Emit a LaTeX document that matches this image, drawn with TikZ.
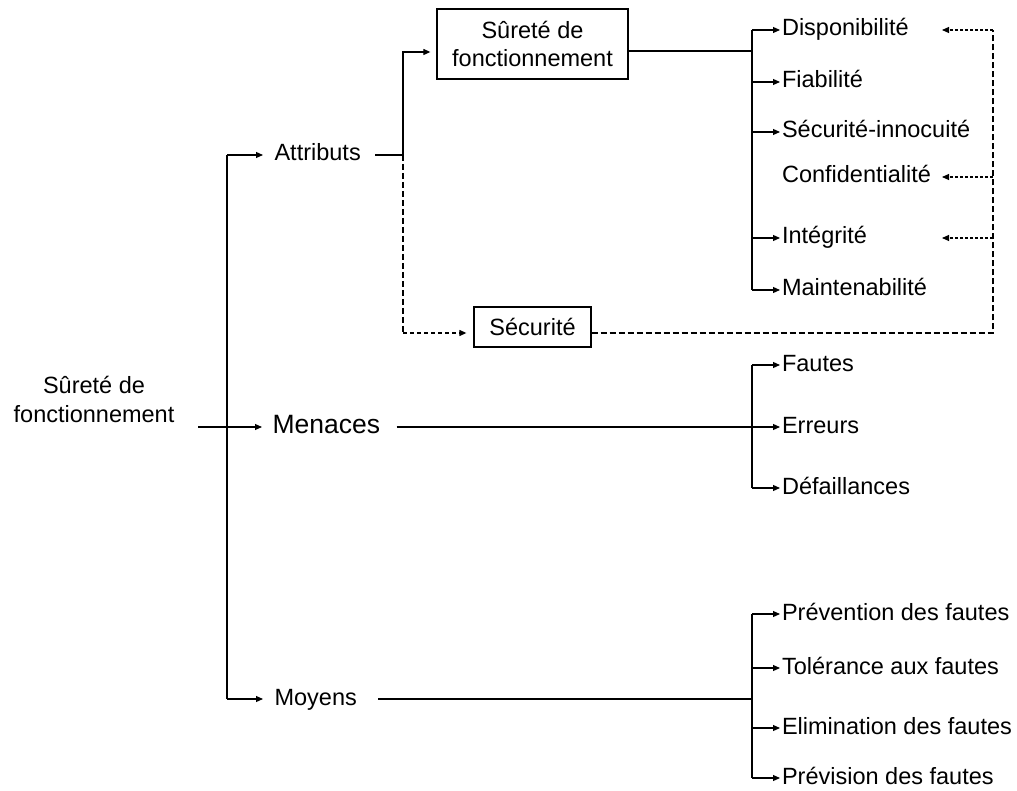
\documentclass[tikz,border=0pt]{standalone}
\usepackage{fontspec}
\setmainfont{Liberation Sans}
\usetikzlibrary{arrows.meta}
\begin{document}
\begin{tikzpicture}[x=1pt,y=-1pt,line width=1.1pt,
  arr/.style={-{Triangle[length=7pt,width=6pt]}},
  lbl/.style={anchor=west,inner xsep=1.5pt,inner ysep=0pt,text height=17pt,text depth=5pt,
    font=\fontsize{23.5}{29}\selectfont},
  midlbl/.style={lbl,inner xsep=11pt},
  framed/.style={draw,line width=1.3pt,align=center,inner sep=0pt,
    font=\fontsize{23.5}{28}\selectfont},
  longdash/.style={line width=1.2pt,dash pattern=on 6pt off 3pt},
  shortdash/.style={line width=1.2pt,dash pattern=on 4pt off 3pt},
  dotarr/.style={line width=1.1pt,dash pattern=on 3pt off 2pt,arr}]
\useasboundingbox (0,0) rectangle (1017,791);

% root and the three main branches
\node[align=center,inner sep=0pt,font=\fontsize{23.5}{29}\selectfont] (root) at (94,399) {Sûreté de\\fonctionnement};
\node[midlbl] (attr) at (263,155) {Attributs};
\node[midlbl,inner xsep=10pt,font=\fontsize{26.5}{30}\selectfont] (menaces) at (262,427) {Menaces};
\node[midlbl] (moyens) at (263,699) {Moyens};

% boxes under "Attributs"
\node[framed,minimum width=191pt,minimum height=70pt] (sdf) at (532.5,44) {Sûreté de\\fonctionnement};
\node[framed,minimum width=117pt,minimum height=40pt] (sec) at (532.5,327) {Sécurité};

% attributes
\node[lbl] (dispo) at (780,30) {Disponibilité};
\node[lbl] (fiab) at (780,82) {Fiabilité};
\node[lbl] (secinn) at (780,132) {Sécurité-innocuité};
\node[lbl] (confid) at (780,177) {Confidentialité};
\node[lbl] (integ) at (780,238) {Intégrité};
\node[lbl] (maint) at (780,290) {Maintenabilité};

% threats
\node[lbl] (fautes) at (780,365) {Fautes};
\node[lbl] (erreurs) at (780,427) {Erreurs};
\node[lbl] (defaill) at (780,488) {Défaillances};

% means
\node[lbl] (prev) at (780,614) {Prévention des fautes};
\node[lbl] (tol) at (780,668) {Tolérance aux fautes};
\node[lbl] (elim) at (780,728) {Elimination des fautes};
\node[lbl] (previs) at (780,778) {Prévision des fautes};

% junction points
\coordinate (rootout) at (198,427);
\coordinate (tA) at (227,155);
\coordinate (tZ) at (227,699);
\coordinate (jA) at (403,155);
\coordinate (jS) at (403,333);
\coordinate (jR) at (993,333);
\coordinate (jT) at (993,30);
\coordinate (tip) at (942,0);
\coordinate (bA) at (752,51);
\coordinate (bM) at (752,427);
\coordinate (bY) at (752,699);

% main tree
\draw (tA) -- (tZ);
\draw[arr] (rootout) -- (menaces);
\draw[arr] (tA) -- (attr);
\draw[arr] (tZ) -- (moyens);

% Attributs -> boxes
\draw[arr,shorten >=6pt,shorten <=3pt] (attr.east) -- (jA) |- ([yshift=-8pt]sdf.west);
\draw[longdash] (jA) -- (jS);
\draw[shortdash,arr,shorten >=7pt] (jS) -- (jS -| sec.west);
\draw[longdash] (sec.east |- jS) -- (jR) -- (jT);
\draw[dotarr] (jT) -- (tip |- dispo);
\draw[dotarr] (jR |- confid) -- (tip |- confid);
\draw[dotarr] (jR |- integ) -- (tip |- integ);

% attributes branch
\draw (sdf.east |- bA) -- (bA);
\draw (bA |- dispo) -- (bA |- maint);
\foreach \n in {dispo,fiab,secinn,integ,maint}
  \draw[arr] (bA |- \n) -- (\n);

% threats branch
\draw[shorten <=6pt] (menaces.east) -- (bM);
\draw (bM |- fautes) -- (bM |- defaill);
\foreach \n in {fautes,erreurs,defaill}
  \draw[arr] (bM |- \n) -- (\n);

% means branch
\draw[shorten <=10pt] (moyens.east) -- (bY);
\draw (bY |- prev) -- (bY |- previs);
\foreach \n in {prev,tol,elim,previs}
  \draw[arr] (bY |- \n) -- (\n);
\end{tikzpicture}
\end{document}
